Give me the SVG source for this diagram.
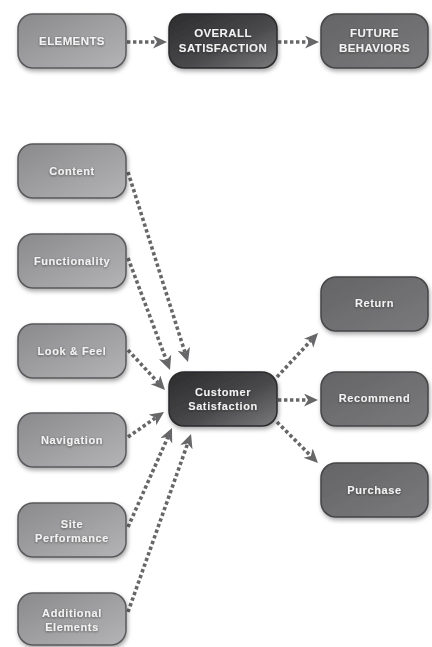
<svg xmlns="http://www.w3.org/2000/svg" width="432" height="647" viewBox="0 0 432 647">
<defs>
<linearGradient id="gLight" x1="0" y1="0" x2="1" y2="1">
<stop offset="0" stop-color="#8a8a8c"/><stop offset="1" stop-color="#b4b4b6"/>
</linearGradient>
<linearGradient id="gDark" x1="0" y1="0" x2="1" y2="1">
<stop offset="0" stop-color="#2c2c2e"/><stop offset="0.55" stop-color="#48484a"/><stop offset="1" stop-color="#7a7a7c"/>
</linearGradient>
<linearGradient id="gMid" x1="0" y1="0" x2="1" y2="1">
<stop offset="0" stop-color="#646466"/><stop offset="1" stop-color="#7a7a7c"/>
</linearGradient>
<filter id="sh" x="-20%" y="-20%" width="140%" height="150%">
<feDropShadow dx="1" dy="2.5" stdDeviation="2" flood-color="#000" flood-opacity="0.35"/>
</filter>
<filter id="tsh" x="-10%" y="-30%" width="120%" height="160%">
<feDropShadow dx="0" dy="0.8" stdDeviation="0.8" flood-color="#222" flood-opacity="0.6"/>
</filter>
<marker id="ah" markerUnits="userSpaceOnUse" markerWidth="16" markerHeight="14" refX="4" refY="6.5" orient="auto">
<path d="M0,0 L14,6.5 L0,13 L4,6.5 Z" fill="#676769"/>
</marker>
</defs>
<style>
.box{stroke-width:1.5;filter:url(#sh)}
.light{fill:url(#gLight);stroke:#59595b}
.dark{fill:url(#gDark);stroke:#2a2a2c}
.mid{fill:url(#gMid);stroke:#454547}
.t{font-family:"Liberation Sans",Arial,sans-serif;font-weight:bold;font-size:11px;fill:#f2f2f2;text-anchor:middle;letter-spacing:0.6px;filter:url(#tsh)}
.tu{font-size:11.5px;letter-spacing:0.4px}
.c{fill:none;stroke:#676769;stroke-width:3.6;stroke-dasharray:3.4 2.6;marker-end:url(#ah)}
</style>
<rect width="432" height="647" fill="#ffffff"/>

<g id="connectors">
<line class="c" x1="127" y1="42" x2="157" y2="42"/>
<line class="c" x1="278" y1="42" x2="309" y2="42"/>
<line class="c" x1="128" y1="172" x2="185" y2="352.5"/>
<line class="c" x1="128" y1="258" x2="166.5" y2="360.6"/>
<line class="c" x1="128" y1="350" x2="158.2" y2="382.7"/>
<line class="c" x1="128" y1="437" x2="155.8" y2="417.7"/>
<line class="c" x1="128" y1="527" x2="167.9" y2="437.1"/>
<line class="c" x1="128" y1="612" x2="187.7" y2="443.4"/>
<line class="c" x1="277" y1="377" x2="311.2" y2="340.3"/>
<line class="c" x1="278" y1="400" x2="308" y2="400"/>
<line class="c" x1="277" y1="422" x2="310.9" y2="455.9"/>
</g>

<g id="elements">
<rect class="box light" x="18" y="14" width="108" height="54" rx="15"/>
<text class="t tu" x="72" y="45">ELEMENTS</text>
</g>
<g id="overall">
<rect class="box dark" x="169" y="14" width="108" height="54" rx="15"/>
<text class="t tu" x="223" y="37">OVERALL</text>
<text class="t tu" x="223" y="52">SATISFACTION</text>
</g>
<g id="future">
<rect class="box mid" x="321" y="14" width="107" height="54" rx="15"/>
<text class="t tu" x="374.5" y="37">FUTURE</text>
<text class="t tu" x="374.5" y="52">BEHAVIORS</text>
</g>

<g id="content">
<rect class="box light" x="18" y="144" width="108" height="54" rx="15"/>
<text class="t" x="72" y="175">Content</text>
</g>
<g id="functionality">
<rect class="box light" x="18" y="234" width="108" height="54" rx="15"/>
<text class="t" x="72" y="265">Functionality</text>
</g>
<g id="lookfeel">
<rect class="box light" x="18" y="324" width="108" height="54" rx="15"/>
<text class="t" x="72" y="355">Look &amp; Feel</text>
</g>
<g id="navigation">
<rect class="box light" x="18" y="413" width="108" height="54" rx="15"/>
<text class="t" x="72" y="444">Navigation</text>
</g>
<g id="siteperformance">
<rect class="box light" x="18" y="503" width="108" height="54" rx="15"/>
<text class="t" x="72" y="528">Site</text>
<text class="t" x="72" y="542">Performance</text>
</g>
<g id="additional">
<rect class="box light" x="18" y="593" width="108" height="52" rx="15"/>
<text class="t" x="72" y="617">Additional</text>
<text class="t" x="72" y="631">Elements</text>
</g>

<g id="customersatisfaction">
<rect class="box dark" x="169" y="372" width="108" height="54" rx="15"/>
<text class="t" x="223" y="396">Customer</text>
<text class="t" x="223" y="410">Satisfaction</text>
</g>

<g id="return">
<rect class="box mid" x="321" y="277" width="107" height="54" rx="15"/>
<text class="t" x="374.5" y="307">Return</text>
</g>
<g id="recommend">
<rect class="box mid" x="321" y="372" width="107" height="54" rx="15"/>
<text class="t" x="374.5" y="402">Recommend</text>
</g>
<g id="purchase">
<rect class="box mid" x="321" y="463" width="107" height="54" rx="15"/>
<text class="t" x="374.5" y="494">Purchase</text>
</g>
</svg>
